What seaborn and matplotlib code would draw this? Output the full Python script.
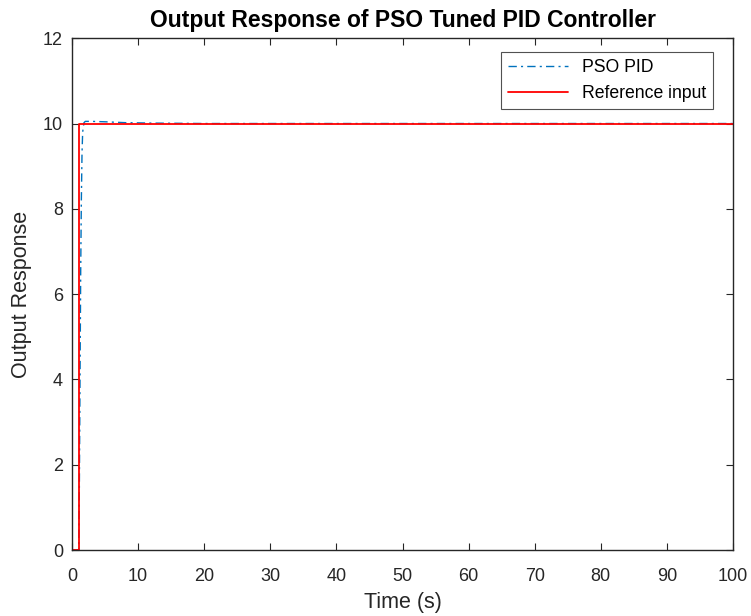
"""Output response of PSO tuned PID controller (step response)."""
import numpy as np
import pandas as pd
import matplotlib
matplotlib.use("Agg")
import matplotlib.pyplot as plt
import seaborn as sns

# step response
time_pso = [0, 1.0, 1.1, 1.2, 1.3, 1.4, 1.5, 1.6, 1.8, 2.0, 3.0, 5.0, 8.0, 12.0, 20.0, 100.0]
resp_pso = [0, 0, 1.5, 4.0, 6.5, 8.2, 9.3, 9.8, 10.02, 10.05, 10.05, 10.04, 10.02, 10.01, 10.0, 10.0]
time_ref = [0, 1.0, 1.0, 100.0]
resp_ref = [0, 0, 10.0, 10.0]

sns.set_style("ticks")
plt.rcParams["font.family"] = ["Liberation Sans", "DejaVu Sans"]

fig, ax = plt.subplots(figsize=(7.51, 6.16), dpi=100)
df_pso = pd.DataFrame({"t": time_pso, "y": resp_pso})
df_ref = pd.DataFrame({"t": time_ref, "y": resp_ref})
sns.lineplot(data=df_pso, x="t", y="y", ax=ax, color="#0072BD", lw=1.0,
             dashes=False, label="PSO PID", sort=False, estimator=None)
ax.lines[-1].set_dashes((6, 3, 1.5, 3))
sns.lineplot(data=df_ref, x="t", y="y", ax=ax, color="#FF0000", lw=1.3,
             label="Reference input", sort=False, estimator=None)

ax.set_xlim(0, 100)
ax.set_ylim(0, 12)
ax.set_xticks(np.arange(0, 101, 10))
ax.set_yticks(np.arange(0, 13, 2))
ax.tick_params(direction="in", top=True, right=True, labelsize=13, length=5,
               color="#262626", labelcolor="#262626")
ax.tick_params(axis="x", pad=13)
ax.tick_params(axis="y", pad=6.5)
for sp in ax.spines.values():
    sp.set_linewidth(1.0)
    sp.set_color("#262626")
ax.set_xlabel("Time (s)", fontsize=15.5, color="#262626", labelpad=5)
ax.set_ylabel("Output Response", fontsize=15.5, color="#262626", labelpad=8)
ax.set_title("Output Response of PSO Tuned PID Controller", fontsize=16.5,
             fontweight="bold", pad=8, color="black")
leg = ax.legend(loc="upper right", bbox_to_anchor=(0.9697, 0.9727),
                borderaxespad=0, fontsize=12.7, frameon=True, fancybox=False,
                edgecolor="#262626", handlelength=3.4, labelcolor="black")
leg.get_frame().set_linewidth(0.8)
leg.get_lines()[0].set_dashes((6, 3, 1.5, 3))

fig.subplots_adjust(left=0.096, right=0.976, top=0.938, bottom=0.107)
fig.savefig("out.png", dpi=100)
plt.close(fig)
